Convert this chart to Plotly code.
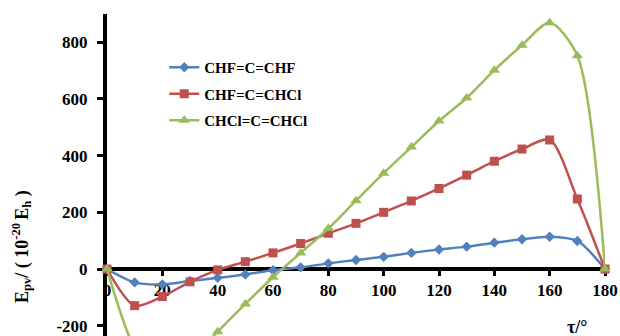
import plotly.graph_objects as go

tau = [0, 10, 20, 30, 40, 50, 60, 70, 80, 90, 100, 110, 120, 130, 140, 150, 160, 170, 180]
chf_chf = [0, -47, -54, -42, -31, -19, -4, 6, 20, 32, 43, 57, 69, 79, 93, 105, 114, 99, 0]
chf_chcl = [0, -129, -97, -45, -3, 26, 57, 90, 126, 161, 200, 240, 284, 331, 380, 423, 455, 247, 0]
chcl_chcl = [0, -280, -400, -320, -221, -123, -29, 57, 143, 241, 338, 430, 522, 603, 701, 789, 868, 752, 0]

names = ["CHF=C=CHF", "CHF=C=CHCl", "CHCl=C=CHCl"]
colors = ["#4F81BD", "#C0504D", "#9BBB59"]
symbols = ["diamond", "square", "triangle-up"]
msizes = [8, 9, 10]
series = [chf_chf, chf_chcl, chcl_chcl]

x_ticks = [0, 20, 40, 60, 80, 100, 120, 140, 160, 180]
y_ticks = [-200, 0, 200, 400, 600, 800]
y_range = [-236, 899]

FONT = "Liberation Serif"

fig = go.Figure()
for name, col, sym, ms, ys in zip(names, colors, symbols, msizes, series):
    fig.add_trace(go.Scatter(
        x=tau, y=ys, name=name, mode="lines+markers",
        line=dict(color=col, width=2.5, shape="spline", smoothing=0.8),
        marker=dict(symbol=sym, size=ms, color=col),
        legendgroup=name, cliponaxis=False,
    ))

fig.update_layout(
    width=620, height=336,
    margin=dict(l=107, r=15, t=14, b=0),
    paper_bgcolor="white", plot_bgcolor="white",
    font=dict(family=FONT, color="black", size=16),
    showlegend=True,
    legend=dict(
        x=0.115, y=0.885, xanchor="left", yanchor="top",
        bgcolor="rgba(0,0,0,0)",
        font=dict(family=FONT, size=15, color="black", weight="bold"),
        tracegroupgap=4,
    ),
    xaxis=dict(
        range=[0, 180], tickvals=x_ticks, ticktext=[str(v) for v in x_ticks],
        showgrid=False, zeroline=False,
        showline=True, linecolor="black", linewidth=4,
        ticks="outside", ticklen=5, tickwidth=3, tickcolor="black",
        tickfont=dict(family=FONT, size=17, weight="bold"),
        anchor="free", position=(0 - y_range[0]) / (y_range[1] - y_range[0]),
        layer="below traces",
    ),
    yaxis=dict(
        range=y_range, tickvals=y_ticks, ticktext=[str(v) for v in y_ticks],
        showgrid=False, zeroline=False,
        showline=True, linecolor="black", linewidth=4,
        ticks="outside", ticklen=6, tickwidth=3, tickcolor="black",
        tickfont=dict(family=FONT, size=17, weight="bold"),
        ticklabelstandoff=6,
        layer="below traces",
    ),
    annotations=[
        dict(text="τ/°", xref="paper", yref="paper",
             x=(577 - 107) / 498, y=1 - (327 - 14) / 322,
             xanchor="center", yanchor="middle", showarrow=False,
             font=dict(family=FONT, size=18, weight="bold")),
        dict(text="E<sub>pv</sub>/ ( 10<sup>-20 </sup>E<sub>h</sub> )",
             xref="paper", yref="paper",
             x=-(107 - 21) / 498, y=1 - (247 - 14) / 322,
             xanchor="center", yanchor="middle", textangle=-90, showarrow=False,
             font=dict(family=FONT, size=18, weight="bold")),
    ],
)

fig.write_html("out.html", config={"displayModeBar": False},
               post_script="document.body.style.margin='0';document.body.style.overflow='hidden';")
